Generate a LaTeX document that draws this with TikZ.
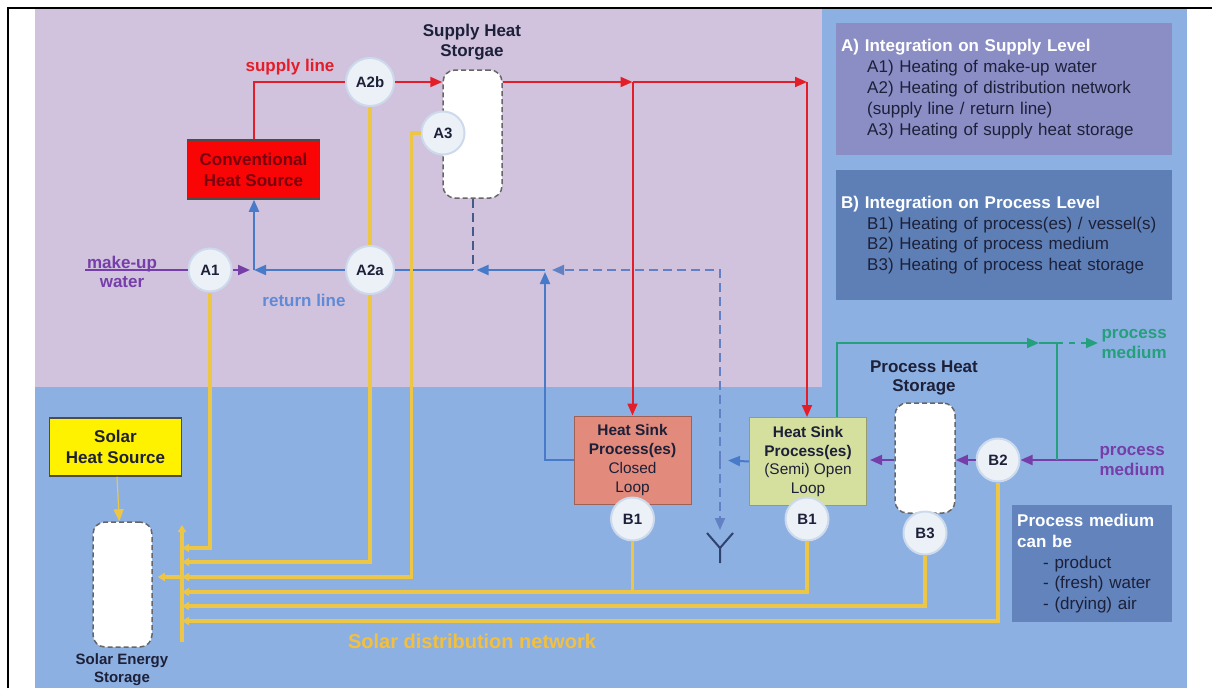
\documentclass[tikz,border=0pt]{standalone}
\usepackage{fontspec}
\setmainfont{Liberation Sans}
\usetikzlibrary{arrows.meta}
\definecolor{lilac}{RGB}{209,195,222}
\definecolor{skyblue}{RGB}{141,176,227}
\definecolor{panelA}{RGB}{139,141,197}
\definecolor{panelB}{RGB}{94,127,182}
\definecolor{panelC}{RGB}{98,131,188}
\definecolor{hotred}{RGB}{228,30,40}
\definecolor{convred}{RGB}{250,5,5}
\definecolor{convtext}{RGB}{120,0,15}
\definecolor{retblue}{RGB}{72,122,202}
\definecolor{retlabel}{RGB}{96,138,214}
\definecolor{dashblue}{RGB}{98,128,196}
\definecolor{mediumpurple}{RGB}{118,62,168}
\definecolor{outteal}{RGB}{36,160,124}
\definecolor{solarc}{RGB}{238,198,70}
\definecolor{solartext}{RGB}{242,192,62}
\definecolor{inkdark}{RGB}{28,32,56}
\definecolor{closedred}{RGB}{226,138,124}
\definecolor{openlime}{RGB}{213,223,158}
\definecolor{spotfill}{RGB}{236,241,247}
\definecolor{spotring}{RGB}{205,218,236}
\definecolor{drainc}{RGB}{48,66,112}
\begin{document}
\begin{tikzpicture}[x=1pt,y=-1pt,>={Triangle[length=12pt,width=10pt]},
    every node/.style={text=inkdark,font=\fontsize{17}{21}\selectfont},
    spotnode/.style={circle,fill=spotfill,draw=spotring,line width=2,inner sep=0,font=\fontsize{15}{18}\selectfont\bfseries},
    tankbox/.style={draw=black!60,line width=1.5,dash pattern=on 5pt off 3pt,fill=white,rounded corners=12,minimum width=59,inner sep=0},
    sinkbox/.style={draw=#1!70!black,fill=#1,line width=1,minimum width=117,minimum height=88,align=center,inner sep=2,font=\fontsize{15.4}{18.7}\selectfont},
    srcbox/.style={draw=black!70,line width=1.5,minimum width=132,minimum height=59,align=center,font=\fontsize{17}{21}\selectfont\bfseries},
    infobox/.style={anchor=north west,align=left,inner sep=5,font=\fontsize{17}{20.8}\selectfont},
    linelabel/.style={align=center,font=\fontsize{17}{19.5}\selectfont\bfseries},
    supplyline/.style={hotred,line width=2},
    returnline/.style={retblue,line width=2},
    returndash/.style={dashblue,line width=2,dash pattern=on 9pt off 5pt},
    mediumline/.style={mediumpurple,line width=2},
    outflowline/.style={outteal,line width=2},
    solarpipe/.style={solarc,line width=3.5,>={Triangle[length=7pt,width=8pt]}}]
  \useasboundingbox (0,0) rectangle (1212,688);
  % backgrounds
  \fill[skyblue] (35,9) rectangle (1187,688);
  \fill[lilac] (35,9) rectangle (822,387);
  \draw[line width=2] (8,688) -- (8,8) -- (1212,8);
  % sources, storages and sinks
  \node[srcbox,fill=convred,text=convtext](conv) at (253.5,169.5) {Conventional\\Heat Source};
  \node[srcbox,fill=yellow,minimum height=58](shs) at (115.5,447) {Solar\\Heat Source};
  \node[tankbox,minimum height=128](sst) at (472.5,134) {};
  \node[tankbox,minimum height=110,minimum width=60](pst) at (925,458) {};
  \node[tankbox,minimum height=125](ses) at (122.5,584.5) {};
  \node[linelabel](sstLbl) at (472,42) {Supply Heat\\Storgae};
  \node[linelabel](pstLbl) at (924,378) {Process Heat\\Storage};
  \node[linelabel,font=\fontsize{15}{18}\selectfont\bfseries](sesLbl) at (122,670) {Solar Energy\\Storage};
  \node[sinkbox=closedred](closed) at (632.5,460) {\textbf{Heat Sink}\\\textbf{Process(es)}\\Closed\\Loop};
  \node[sinkbox=openlime](semi) at (808,461.5) {\textbf{Heat Sink}\\\textbf{Process(es)}\\(Semi) Open\\Loop};
  % integration points
  \foreach \n/\t/\x/\y/\s in {A1/A1/210/270/43,A2a/A2a/370/270/48,A2b/A2b/370/82/48,A3/A3/443/133/43,
      B1c/B1/632.5/519/43,B1s/B1/807/519/43,B3/B3/925/533/43,B2/B2/998/460/43}{
    \node[spotnode,minimum size=\s](\n) at (\x,\y) {\t};
  }
  % legend panels
  \node[infobox,fill=panelA,minimum width=336,minimum height=132,text width=326](infoA) at (836,23)
    {\textcolor{white}{\bfseries A) Integration on Supply Level}\\
     \hspace*{26pt}A1) Heating of make-up water\\
     \hspace*{26pt}A2) Heating of distribution network\\
     \hspace*{26pt}(supply line / return line)\\
     \hspace*{26pt}A3) Heating of supply heat storage};
  \node[infobox,fill=panelB,minimum width=336,minimum height=130,text width=326](infoB) at (836,170)
    {\textcolor{white}{\bfseries B) Integration on Process Level}\\
     \hspace*{26pt}B1) Heating of process(es) / vessel(s)\\
     \hspace*{26pt}B2) Heating of process medium\\
     \hspace*{26pt}B3) Heating of process heat storage};
  \node[infobox,fill=panelC,minimum width=160,minimum height=117,text width=150](infoC) at (1012,505)
    {\textcolor{white}{\bfseries Process medium}\\\textcolor{white}{\bfseries can be}\\
     \hspace*{26pt}- product\\
     \hspace*{26pt}- (fresh) water\\
     \hspace*{26pt}- (drying) air};
  % junctions and free ends
  \coordinate(mw) at (85,270);
  \coordinate(Jr1) at (254,270);
  \coordinate(Jr2) at (472.5,270);
  \coordinate(Jr3) at (545,270);
  \coordinate(Jr4) at (720,270);
  \coordinate(Jd) at (720,460);
  \coordinate(drain) at (720,530);
  \coordinate(Js1) at (632.5,82);
  \coordinate(Js2) at (807,82);
  \coordinate(Jt1) at (837,343);
  \coordinate(Jt0) at (1039,343);
  \coordinate(Jt2) at (1057,343);
  \coordinate(Jt3) at (1057,460);
  \coordinate(pmIn) at (1098,460);
  \coordinate(pmOut) at (1098,343);
  \coordinate(busTop) at (182,525);
  \coordinate(busBot) at (182,642);
  \foreach \k/\yy in {A1/548,A2/562,A3/577,B1/592,B3/606,B2/621}{
    \coordinate(bus\k) at (182,\yy);
  }
  % supply line
  \draw[supplyline](conv.north) |- (A2b.west);
  \draw[supplyline,->](A2b) -- (sst.west |- A2b);
  \draw[supplyline,->](sst.east |- A2b) -- (Js1);
  \draw[supplyline,->](Js1) -- (Js2);
  \draw[supplyline,->](Js1) -- (closed.north);
  \draw[supplyline,->](Js2) -- (Js2 |- semi.north);
  % return line
  \draw[returnline,->](A2a) -- (Jr1);
  \draw[returnline,->](Jr1) -- (Jr1 |- conv.south);
  \draw[returnline](Jr2) -- (A2a);
  \draw[returnline,->,shorten >=4pt](Jr3) -- (Jr2);
  \draw[returndash,dashblue!70!black](sst.south) -- (Jr2);
  \draw[returnline,->,shorten >=2pt](closed.west) -| (Jr3);
  \draw[returndash,->,shorten >=7pt](Jd) -- (Jr4) -- (Jr3);
  \draw[returndash,->](Jd) -- (drain);
  \draw[returnline,->,shorten >=8pt](semi.west) -- (Jd);
  \draw[drainc,line width=2](707,533) -- (720,548) -- (733,533) (720,548) -- (720,563);
  % make-up water and process medium
  \draw[mediumline](mw) -- (A1);
  \draw[mediumline,->,shorten >=4pt](A1) -- (Jr1);
  \draw[mediumline,->](pmIn) -- (B2);
  \draw[mediumline,->](B2) -- (pst.east |- B2);
  \draw[mediumline,->,shorten >=3pt](pst.west |- B2) -- (semi.east |- B2);
  \draw[outflowline,->](Jt1 |- semi.north) -- (Jt1) -- (Jt0);
  \draw[outflowline](Jt0) -- (Jt2) -- (Jt3);
  \draw[outflowline,->,dash pattern=on 6pt off 6pt](Jt2) -- (pmOut);
  % solar distribution network
  \foreach \n/\k in {A1/A1,A2a/A2,B1s/B1,B3/B3,B2/B2}{
    \draw[solarpipe,->](\n.south) |- (bus\k);
  }
  \draw[solarpipe](A2b) -- (A2a);
  \draw[solarpipe,->](A3.west) -- ++(-9,0) |- (busA3);
  \draw[solarpipe](B1c) -- (B1c |- busB1);
  \draw[solarpipe,->](busBot) -- (busTop);
  \draw[solarpipe,->,shorten >=5pt](busA3) -- (ses.east |- busA3);
  \draw[solarc,line width=1.2,->](shs) -- (ses);
  % line labels
  \node[linelabel,text=hotred](supLbl) at (290,67) {supply line};
  \node[linelabel,text=retlabel](retLbl) at (304,300) {return line};
  \node[linelabel,text=mediumpurple](mwLbl) at (122,272) {make-up\\water};
  \node[linelabel,text=mediumpurple,anchor=west](pmInLbl) at (1096,461) {process\\medium};
  \node[linelabel,text=outteal,anchor=west](pmOutLbl) at (1098,344) {process\\medium};
  \node[linelabel,text=solartext,font=\fontsize{20}{24}\selectfont\bfseries](sdnLbl) at (472,641) {Solar distribution network};
\end{tikzpicture}
\end{document}
